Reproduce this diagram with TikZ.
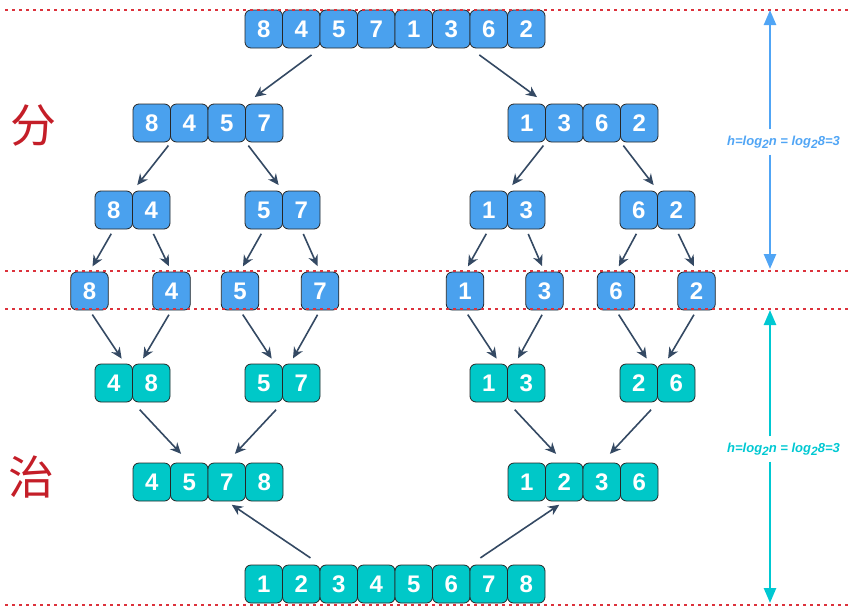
\documentclass[tikz,border=0pt]{standalone}
\usepackage{fontspec}
\setmainfont{Liberation Sans}
\newfontfamily\cjk{Noto Sans CJK SC}
\usetikzlibrary{arrows.meta}
\definecolor{splitblue}{RGB}{74,161,238}
\definecolor{mergecyan}{RGB}{0,200,200}
\definecolor{linkgray}{RGB}{52,73,99}
\definecolor{seamred}{RGB}{220,50,60}
\definecolor{hanred}{RGB}{196,30,40}
\definecolor{hblue}{RGB}{80,165,245}
\definecolor{hcyan}{RGB}{0,200,210}
\newcommand{\logbase}[1]{\raisebox{-3pt}{\fontsize{12}{12}\selectfont #1}}

\begin{document}
\begin{tikzpicture}[x=1pt,y=-1pt,>={Stealth[length=11pt,width=10pt]},
                    semithick]
  \tikzstyle{cell}=[rectangle,rounded corners=6pt,draw=black!85,line width=0.8pt,
                    minimum width=37.5pt,minimum height=38pt,inner sep=0pt,
                    text=white,font=\fontsize{24}{24}\selectfont\bfseries]
  \tikzstyle{split}=[cell,fill=splitblue]
  \tikzstyle{merge}=[cell,fill=mergecyan]
  \tikzstyle{link}=[->,draw=linkgray,line width=1.6pt,shorten <=5pt,shorten >=6pt]
  \tikzstyle{seam}=[draw=seamred,line width=1.6pt,dash pattern=on 2.5pt off 4.5pt]
  \tikzstyle{han}=[text=hanred,font=\cjk\fontsize{46}{46}\selectfont]
  \tikzstyle{depth}=[-{Triangle[length=15pt,width=12pt]},line width=2.5pt]
  \tikzstyle{hlabel}=[font=\fontsize{13}{13}\selectfont\bfseries\itshape,
                      inner xsep=0pt,inner ysep=6pt]

  \useasboundingbox (0,0) rectangle (849,614);

  % divide
  \foreach \v [count=\i] in {8,4,5,7,1,3,6,2}
    \node[split] (a\i) at ({226.25+37.5*\i},29) {\v};
  \foreach \v [count=\i] in {8,4,5,7}
    \node[split] (b\i) at ({114.25+37.5*\i},123) {\v};
  \foreach \v [count=\i from 5] in {1,3,6,2}
    \node[split] (b\i) at ({339.25+37.5*\i},123) {\v};
  \foreach \v/\x [count=\i] in {8/113.75,4/151.25,5/263.75,7/301.25,
                                1/488.75,3/526.25,6/638.75,2/676.25}
    \node[split] (c\i) at (\x,210) {\v};
  \foreach \v/\x [count=\i] in {8/89.5,4/171.5,5/240,7/320,
                                1/465,3/544.5,6/616,2/696.5}
    \node[split] (d\i) at (\x,291) {\v};

  % conquer
  \foreach \v/\x [count=\i] in {4/113.75,8/151.25,5/263.75,7/301.25,
                                1/488.75,3/526.25,2/638.75,6/676.25}
    \node[merge] (e\i) at (\x,383) {\v};
  \foreach \v [count=\i] in {4,5,7,8}
    \node[merge] (f\i) at ({114.25+37.5*\i},482) {\v};
  \foreach \v [count=\i from 5] in {1,2,3,6}
    \node[merge] (f\i) at ({339.25+37.5*\i},482) {\v};
  \foreach \v [count=\i] in {1,...,8}
    \node[merge] (g\i) at ({226.25+37.5*\i},584) {\v};

  \node[han] (fen) at (33,125) {分};
  \node[han] (zhi) at (32,477) {治};

  \draw[link,shorten <=11pt,shorten >=11pt] (a2.south east) -- (b3.north east);
  \draw[link,shorten <=11pt,shorten >=11pt] (a6.south east) -- (b5.north east);
  \foreach \i in {1,3,5,7}
    \draw[link,shorten <=4pt,shorten >=7pt] (b\i.south east) -- (c\i.north east);
  \foreach \i in {1,...,8}
    \draw[link] (c\i.south) -- (d\i.north);
  \foreach \i/\j in {1/2,3/4,5/6,7/8} {
    \draw[link] (d\i.south) -- (e\i.60);
    \draw[link] (d\j.south) -- (e\j.120);
  }
  \foreach \i/\j in {1/2,3/3,5/6,7/7}
    \draw[link,shorten <=10pt,shorten >=12pt] (e\i.south east) -- (f\j.north);
  \draw[link,shorten <=12pt] (g2.north east) -- (f3.south);
  \draw[link,shorten <=12pt] (g6.north east) -- (f6.south);

  % levels
  \foreach \y in {10,271,309,605}
    \draw[seam] (5,\y) -- (849,\y);

  \coordinate (splittop) at (770,10);
  \coordinate (splitbot) at (770,269);
  \coordinate (mergetop) at (770,310);
  \coordinate (mergebot) at (770,603);
  \node[hlabel,text=hblue] (hsplit) at (783.5,142)
    {h=log\logbase{2}n = log\logbase{2}8=3};
  \node[hlabel,text=hcyan] (hmerge) at (783.5,449)
    {h=log\logbase{2}n = log\logbase{2}8=3};
  \draw[depth,hblue] (hsplit.north -| splittop) -- (splittop);
  \draw[depth,hblue] (hsplit.south -| splittop) -- (splitbot);
  \draw[depth,hcyan] (hmerge.north -| mergetop) -- (mergetop);
  \draw[depth,hcyan] (hmerge.south -| mergetop) -- (mergebot);
\end{tikzpicture}
\end{document}
